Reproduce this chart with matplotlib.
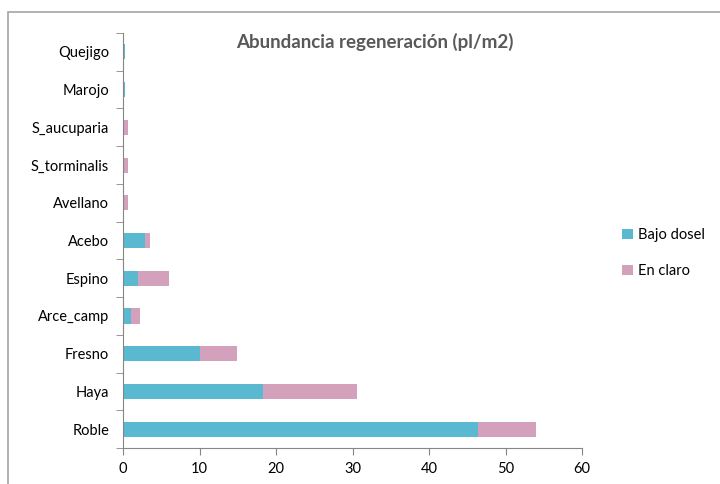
import matplotlib
matplotlib.use("Agg")
from matplotlib import pyplot as plt
from matplotlib.patches import Rectangle

species = ["Roble", "Haya", "Fresno", "Arce_camp", "Espino", "Acebo",
           "Avellano", "S_torminalis", "S_aucuparia", "Marojo", "Quejigo"]
bajo_dosel = [46.4, 18.3, 10.0, 1.05, 2.0, 2.9, 0.0, 0.0, 0.0, 0.25, 0.25]
en_claro = [7.6, 12.3, 4.9, 1.15, 4.0, 0.6, 0.6, 0.6, 0.6, 0.0, 0.0]
x_ticks = [0, 10, 20, 30, 40, 50, 60]

plt.rcParams['font.family'] = ['Lato', 'DejaVu Sans']

W, H = 720, 484
fig = plt.figure(figsize=(W / 100, H / 100), dpi=100)
ax = fig.add_axes([123 / W, 1 - 448 / H, (582 - 123) / W, (448 - 33) / H])

# outer chart border
fig.patches.append(Rectangle((8 / W, -0.1), 1.2, 1 - 12 / H + 0.1,
                             transform=fig.transFigure, fill=False,
                             edgecolor='#A6A6A6', linewidth=1.2))

pos = range(len(species))
ax.barh(pos, bajo_dosel, height=0.4, color='#5BB8D1', label='Bajo dosel')
ax.barh(pos, en_claro, left=bajo_dosel, height=0.4, color='#D4A1BD', label='En claro')

ax.set_xlim(0, 60)
ax.set_ylim(-0.5, len(species) - 0.5)
ax.set_xticks(x_ticks)
ax.set_yticks(list(pos))
ax.set_yticklabels(species)
ax.set_yticks([i - 0.5 for i in range(len(species) + 1)], minor=True)
ax.tick_params(axis='y', which='major', length=0, pad=10, labelsize=10.5)
ax.tick_params(axis='y', which='minor', length=5, color='#868686')
ax.tick_params(axis='x', length=5, color='#868686', labelsize=10.5, pad=5)

for s in ['top', 'right']:
    ax.spines[s].set_visible(False)
for s in ['left', 'bottom']:
    ax.spines[s].set_color('#868686')

fig.text(375 / W, 1 - 42 / H, "Abundancia regeneración (pl/m2)",
         ha='center', va='center', fontsize=13.5, fontweight='bold', color='#595959')

ax.legend(loc='center left', bbox_to_anchor=(622 / W, 1 - 253 / H),
          bbox_transform=fig.transFigure, frameon=False, fontsize=10.5,
          borderpad=0, borderaxespad=0,
          handlelength=0.75, handleheight=0.75, labelspacing=1.5, handletextpad=0.35)

fig.savefig("out.png", dpi=100)
